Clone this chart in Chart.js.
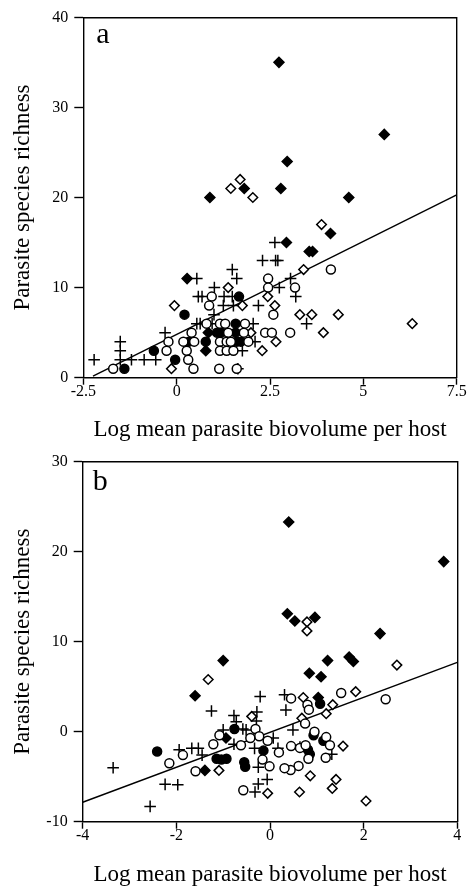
<!DOCTYPE html>
<html lang="en">
<head>
<meta charset="UTF-8">
<title>Parasite species richness vs biovolume</title>
<script src="https://cdn.jsdelivr.net/npm/chart.js@4"></script>
<style>
    body { margin: 0; background: #fff; }
    .panel { position: absolute; left: 0; width: 473px; }
</style>
</head>
<body>
<div class="panel" style="top:0;height:443px"><canvas id="chartA" width="473" height="443"></canvas></div>
<div class="panel" style="top:443px;height:444px"><canvas id="chartB" width="473" height="444"></canvas></div>
<script>
// ---- panel a: raw richness (x = log biovolume, y = species count)
const aPlus = [[2.63,15],[2.30,13],[2.65,13],[2.71,13],[1.49,12],[1.61,11],[0.54,11],[3.05,11],[1.01,10],[2.75,10],
    [3.19,9],[0.58,9],[0.68,9],[1.27,9],[1.49,9],[1.25,8],[1.52,8],[2.19,8],[1.00,7],[0.54,6],[0.63,6],[0.95,6],
    [2.05,6],[3.48,6],[-0.31,5],[2.10,4],[-1.51,4],[-1.51,3],[-1.51,2],[1.76,3],[-2.21,2],[-1.21,2],[-0.87,2],
    [-0.56,2],[1.64,1]];
const aOpenCircle = [[4.13,12],[2.45,11],[2.45,10],[3.17,10],[0.94,9],[0.87,8],[2.59,7],[0.80,6],[1.16,6],[1.30,6],
    [1.83,6],[0.40,5],[1.38,5],[1.80,5],[2.37,5],[2.55,5],[3.04,5],[-0.22,4],[0.18,4],[0.47,4],[1.16,4],[1.34,4],
    [1.45,4],[1.92,4],[-0.27,3],[0.27,3],[1.16,3],[1.34,3],[1.52,3],[0.31,2],[-1.70,1],[0.45,1],[1.14,1],[1.61,1]];
const aFilledCircle = [[1.67,9],[0.21,7],[1.58,6],[1.08,5],[1.20,5],[1.58,5],[0.33,4],[0.78,4],[1.61,4],[1.72,4],
    [-0.61,3],[-0.04,2],[-1.40,1]];
const aOpenDiamond = [[1.70,22],[1.45,21],[2.04,20],[3.88,17],[3.40,12],[1.38,10],[2.44,9],[-0.06,8],[1.76,8],
    [2.63,8],[3.30,7],[3.62,7],[4.33,7],[6.31,6],[1.99,5],[3.93,5],[2.66,4],[2.29,3],[-0.14,1]];
const aFilledDiamond = [[2.74,35],[5.56,27],[2.96,24],[2.79,21],[1.81,21],[0.89,20],[4.61,20],[4.12,16],[2.94,15],
    [3.55,14],[3.64,14],[0.28,11],[0.85,5],[0.78,3]];
const aFit = [[-2.24,0.18],[7.5,20.3]];
const aXTicks = [-2.5, 0, 2.5, 5, 7.5];
const aXLabels = ['-2.5', '0', '2.5', '5', '7.5'];
const aYTicks = [0, 10, 20, 30, 40];
const aYLabels = ['0', '10', '20', '30', '40'];

// ---- panel b: residual richness
const bPlus = [[-0.21,3.9],[0.31,4.1],[0.34,2.4],[-1.25,2.3],[-0.77,1.8],[-0.28,2.2],[-0.29,1.2],[-0.72,1.1],
    [-1.00,0.2],[-0.58,0.3],[-0.51,0.2],[0.49,0.2],[-0.77,-1.4],[-0.33,-1.85],[0.07,-0.7],[0.17,-1.85],[0.64,-1.7],
    [1.32,-2.5],[-1.94,-2.0],[-1.67,-1.85],[-1.53,-1.85],[-1.45,-2.6],[-3.35,-4.0],[-2.24,-5.85],[-1.97,-5.9],
    [-2.56,-8.3],[-0.25,-3.95],[-0.06,-5.3],[-0.25,-5.8],[-0.32,-6.7]];
const bOpenCircle = [[2.47,3.6],[1.52,4.3],[0.45,3.7],[0.80,3.0],[0.83,2.45],[0.75,0.9],[-0.31,0.3],[-0.23,-0.5],
    [-1.08,-0.4],[-1.21,-1.4],[-0.62,-1.5],[-0.42,-0.7],[-0.05,-1.0],[-0.16,-3.1],[-0.01,-3.85],[0.19,-2.3],
    [0.45,-1.6],[0.64,-1.8],[0.95,0.0],[1.20,-0.6],[1.28,-1.5],[1.19,-2.9],[0.82,-3.0],[0.76,-1.5],[0.61,-3.8],
    [0.44,-4.25],[0.31,-4.05],[-0.57,-6.5],[-1.59,-4.4],[-2.15,-3.5],[-1.86,-2.6]];
const bFilledCircle = [[-2.41,-2.2],[-1.14,-3.0],[-1.04,-3.1],[-0.93,-3.0],[-0.76,0.3],[-0.55,-3.4],[-0.53,-3.9],
    [-0.14,-2.1],[0.93,-0.4],[1.14,-1.0],[0.81,-2.0],[0.85,-2.5],[1.07,3.1]];
const bOpenDiamond = [[0.79,12.2],[0.79,11.2],[2.71,7.4],[-1.32,5.8],[1.83,4.45],[0.71,3.8],[1.34,3.0],[1.20,2.0],
    [0.68,1.5],[-0.39,1.7],[1.56,-1.6],[-1.09,-4.3],[0.86,-4.9],[1.41,-5.3],[1.33,-6.3],[0.63,-6.7],[2.05,-7.7],
    [-0.05,-6.85]];
const bFilledDiamond = [[0.40,23.3],[3.71,18.9],[0.37,13.1],[0.53,12.3],[0.96,12.7],[2.35,10.9],[-1.00,7.9],
    [0.84,6.5],[1.09,6.1],[1.23,7.9],[1.69,8.3],[1.78,7.8],[-1.60,4.0],[1.03,3.8],[-0.94,-0.7],[-1.39,-4.3]];
const bFit = [[-4,-7.84],[4,7.71]];
const bXTicks = [-4, -2, 0, 2, 4];
const bXLabels = ['-4', '-2', '0', '2', '4'];
const bYTicks = [-10, 0, 10, 20, 30];
const bYLabels = ['-10', '0', '10', '20', '30'];

const SERIF = "'Liberation Serif', 'Times New Roman', serif";
const tickFont = { family: SERIF, size: 16 };
const titleFont = { family: SERIF, size: 23, lineHeight: 1 };

const pts = arr => arr.map(([x, y]) => ({ x, y }));

// panel letter in the top-left corner of the plot box
const panelLetter = {
    id: 'panelLetter',
    afterDraw(chart, args, opts) {
        const { ctx, chartArea } = chart;
        ctx.save();
        ctx.font = '30px ' + SERIF;
        ctx.fillStyle = '#000';
        ctx.textBaseline = 'alphabetic';
        ctx.fillText(opts.text, chartArea.left + opts.dx, chartArea.top + opts.dy);
        ctx.restore();
    }
};

function makePanel(id, p) {
    const mark = (data, style, fill, radius) => ({
        type: 'scatter',
        data: pts(data),
        pointStyle: style,
        pointRadius: radius,
        borderColor: '#000',
        backgroundColor: fill,
        borderWidth: 1.5,
        order: 1
    });
    const frame = (pos, fitFn) => ({
        type: 'linear', position: pos,
        min: pos === 'top' ? p.xMin : p.yMin,
        max: pos === 'top' ? p.xMax : p.yMax,
        ticks: { display: false },
        grid: { display: false },
        border: { display: true, color: '#000', width: 1.4 },
        afterFit: fitFn
    });

    return new Chart(document.getElementById(id), {
        data: {
            datasets: [
                {
                    type: 'line',
                    data: pts(p.fit),
                    borderColor: '#000',
                    borderWidth: 1.4,
                    pointRadius: 0,
                    fill: false,
                    order: 5
                },
                mark(p.openCircle, 'circle', '#fff', 4.5),
                mark(p.filledCircle, 'circle', '#000', 4.5),
                mark(p.openDiamond, 'rectRot', '#fff', 4.8),
                mark(p.filledDiamond, 'rectRot', '#000', 5),
                mark(p.plus, 'cross', '#000', 5.8)
            ]
        },
        options: {
            responsive: false,
            animation: false,
            events: [],
            layout: { padding: p.padding },
            plugins: {
                legend: { display: false },
                tooltip: { enabled: false },
                panelLetter: p.letter
            },
            scales: {
                x: {
                    type: 'linear', position: 'bottom',
                    min: p.xMin, max: p.xMax,
                    afterBuildTicks: s => { s.ticks = p.xTicks.map(v => ({ value: v })); },
                    ticks: {
                        callback: (v, i) => p.xLabels[i],
                        font: tickFont, color: '#000', padding: -3,
                        maxRotation: 0, autoSkip: false
                    },
                    grid: { drawOnChartArea: false, drawTicks: true, tickLength: 7, tickColor: '#000', tickWidth: 1.4 },
                    border: { display: true, color: '#000', width: 1.4 },
                    title: {
                        display: true, text: 'Log mean parasite biovolume per host',
                        font: titleFont, color: '#000', padding: { top: 0, bottom: p.xTitlePad }
                    },
                    afterFit: s => { s.height = p.xAxisHeight; }
                },
                y: {
                    type: 'linear', position: 'left',
                    min: p.yMin, max: p.yMax,
                    afterBuildTicks: s => { s.ticks = p.yTicks.map(v => ({ value: v })); },
                    ticks: {
                        callback: (v, i) => p.yLabels[i],
                        font: tickFont, color: '#000', padding: 6, autoSkip: false
                    },
                    grid: { drawOnChartArea: false, drawTicks: true, tickLength: 9, tickColor: '#000', tickWidth: 1.4 },
                    border: { display: true, color: '#000', width: 1.4 },
                    title: {
                        display: true, text: 'Parasite species richness',
                        font: titleFont, color: '#000', padding: { top: 11, bottom: 0 }
                    },
                    afterFit: s => { s.width = p.yAxisWidth; }
                },
                xTop: frame('top', s => { s.height = 0; }),
                yRight: frame('right', s => { s.width = 0; })
            }
        },
        plugins: [panelLetter]
    });
}

makePanel('chartA', {
    plus: aPlus, openCircle: aOpenCircle, filledCircle: aFilledCircle,
    openDiamond: aOpenDiamond, filledDiamond: aFilledDiamond, fit: aFit,
    xMin: -2.5, xMax: 7.5, yMin: 0, yMax: 40,
    xTicks: aXTicks, xLabels: aXLabels, yTicks: aYTicks, yLabels: aYLabels,
    padding: { left: 0, right: 16.3, top: 17.3, bottom: 0 },
    yAxisWidth: 83.3, xAxisHeight: 65.3, xTitlePad: 2,
    letter: { text: 'a', dx: 13, dy: 25.7 }
});

makePanel('chartB', {
    plus: bPlus, openCircle: bOpenCircle, filledCircle: bFilledCircle,
    openDiamond: bOpenDiamond, filledDiamond: bFilledDiamond, fit: bFit,
    xMin: -4, xMax: 4, yMin: -10, yMax: 30,
    xTicks: bXTicks, xLabels: bXLabels, yTicks: bYTicks, yLabels: bYLabels,
    padding: { left: 0, right: 15.7, top: 18.7, bottom: 0 },
    yAxisWidth: 82.7, xAxisHeight: 65.3, xTitlePad: 0.7,
    letter: { text: 'b', dx: 10, dy: 28.3 }
});
</script>
</body>
</html>
